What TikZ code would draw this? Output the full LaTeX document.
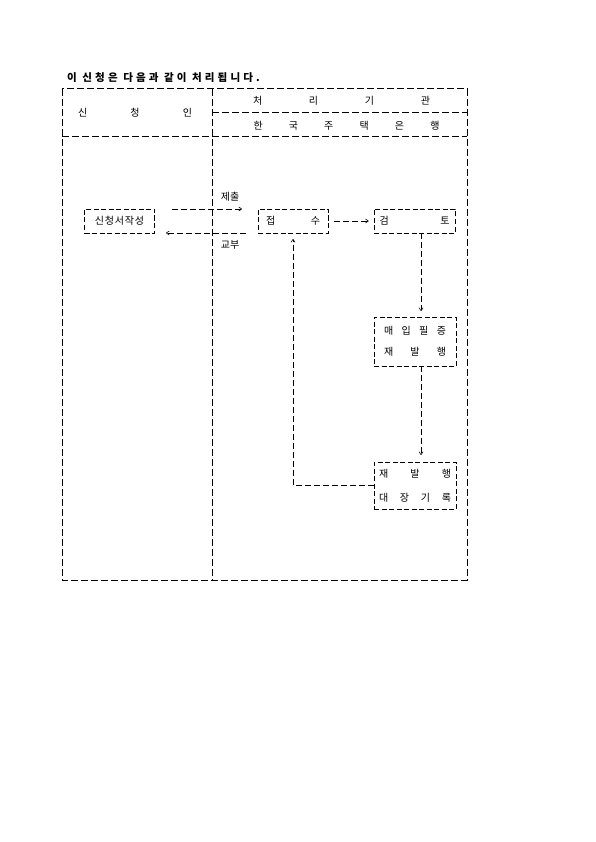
\documentclass[tikz,border=0pt]{standalone}
\usepackage{fontspec}
\setmainfont{Noto Sans CJK KR}
\usetikzlibrary{arrows.meta}
\tikzset{
  frame/.style={line width=1pt, dash pattern=on 7pt off 3pt},
  box/.style={draw, line width=0.6pt, dash pattern=on 5pt off 2.5pt, inner sep=0pt, font=\fontsize{10}{10}\selectfont},
  conn/.style={line width=0.5pt, dash pattern=on 6pt off 3pt, -{To[length=3.5pt,width=4.5pt,line width=0.6pt]}},
  txt/.style={inner sep=0pt, font=\fontsize{10}{10}\selectfont},
}
\newcommand{\spread}[2]{\makebox[#1][s]{#2}}
\begin{document}
\begin{tikzpicture}[x=1pt,y=-1pt]
\useasboundingbox (0,0) rectangle (595,842);
% title
\node[txt, anchor=west, font=\fontsize{10.5}{10.5}\selectfont\addfontfeature{LetterSpace=30}\bfseries] (title) at (67,78) {이 신청은 다음과 같이 처리됩니다.};
% frame
\draw[frame] (62,89) rectangle (467,580);
\draw[frame] (212,89) -- (212,580);
\draw[frame] (212,113) -- (467,113);
\draw[frame] (62,137) -- (467,137);
% header
\node[txt] (hA) at (135,113) {\spread{114pt}{신\hfill 청\hfill 인}};
\node[txt] (hB) at (341.5,101) {\spread{177pt}{처\hfill 리\hfill 기\hfill 관}};
\node[txt] (hC) at (346.5,126) {\spread{186pt}{한\hfill 국\hfill 주\hfill 택\hfill 은\hfill 행}};
% boxes
\node[box, minimum width=70pt, minimum height=24pt] (n1) at (119.5,221) {\addfontfeature{LetterSpace=8}신청서작성};
\node[box, minimum width=70pt, minimum height=24pt] (n2) at (293,221) {\spread{54pt}{접\hfill 수}};
\node[box, minimum width=81pt, minimum height=24pt] (n3) at (414.5,221) {\spread{70pt}{검\hfill 토}};
\node[box, minimum width=82pt, minimum height=49pt, align=center, font=\fontsize{10}{21}\selectfont] (n4) at (415,341.5) {\spread{62pt}{매\hfill 입\hfill 필\hfill 증}\\\spread{62pt}{재\hfill 발\hfill 행}};
\node[box, minimum width=82pt, minimum height=47pt, align=center, font=\fontsize{10}{24}\selectfont] (n5) at (415,485.5) {\spread{72pt}{재\hfill 발\hfill 행}\\\spread{72pt}{대\hfill 장\hfill 기\hfill 록}};
% labels
\node[txt] (l1) at (230,197) {제출};
\node[txt] (l2) at (230,245) {교부};
% connectors
\coordinate (s1) at (172,209);
\coordinate (s2) at (242,209);
\draw[conn] (s1) -- (s2);
\coordinate (g1) at (246,233);
\coordinate (g2) at (166,233);
\draw[conn] (g1) -- (g2);
\draw[conn] ([xshift=6pt]n2.east) -- ([xshift=-5pt]n3.west);
\coordinate (d1) at (421,233);
\coordinate (d2) at (421,311);
\draw[conn] (d1) -- (d2);
\coordinate (e1) at (421,366);
\coordinate (e2) at (421,455);
\draw[conn] (e1) -- (e2);
\coordinate (c1) at (293,485.5);
\coordinate (c2) at (293,239);
\draw[conn] (n5.west) -- (c1) -- (c2);
\end{tikzpicture}
\end{document}
